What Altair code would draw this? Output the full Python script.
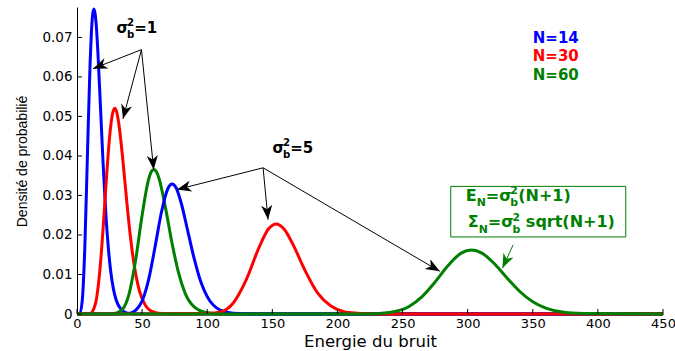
import math
import altair as alt
import pandas as pd

# ---- density curves: energie du bruit (x) vs densité (y) ----
n14_s1_x = [0, 2, 4, 6, 8, 10, 11, 12, 13, 14, 15, 16, 18, 20, 22, 24, 26, 28, 30, 34, 38, 44, 450]
n14_s1_y = [0, 0.0001, 0.0033, 0.0168, 0.0401, 0.0629, 0.0709, 0.0757, 0.0772, 0.0758, 0.0721,
            0.0665, 0.0526, 0.0384, 0.0262, 0.0170, 0.0105, 0.0063, 0.0036, 0.0011, 0.0003, 0, 0]

n30_s1_x = [0, 10, 14, 18, 20, 22, 24, 26, 27.5, 29, 30.5, 32, 35, 38, 41, 44, 48, 52, 58, 66, 450]
n30_s1_y = [0, 0.0001, 0.0024, 0.0127, 0.0214, 0.0314, 0.0408, 0.0479, 0.0510, 0.0521, 0.0511,
            0.0484, 0.0397, 0.0292, 0.0196, 0.0122, 0.0058, 0.0025, 0.0006, 0.0001, 0]

n60_s1_x = [0, 25, 30, 35, 40, 45, 50, 55, 57, 59, 61, 63, 68, 73, 78, 83, 90, 100, 110, 450]
n60_s1_y = [0, 0, 0.0002, 0.0012, 0.0051, 0.0136, 0.0250, 0.0341, 0.0360, 0.0366, 0.0360,
            0.0343, 0.0268, 0.0179, 0.0104, 0.0053, 0.0018, 0.0003, 0, 0]

n14_s5_x = [0, 35, 40, 45, 50, 55, 60, 65, 70, 73, 76, 80, 85, 90, 95, 100, 110, 120, 135, 450]
n14_s5_y = [0, 0, 0.0001, 0.0009, 0.0033, 0.0087, 0.0171, 0.0260, 0.0319, 0.0329, 0.0320,
            0.0281, 0.0211, 0.0140, 0.0082, 0.0044, 0.0010, 0.0002, 0, 0]

n30_s5_x = [0, 90, 100, 110, 120, 130, 140, 147, 153, 159, 166, 175, 185, 195, 205, 215, 230, 450]
n30_s5_y = [0, 0, 0.0001, 0.0005, 0.0028, 0.0087, 0.0170, 0.0215, 0.0228, 0.0215, 0.0175,
            0.0111, 0.0052, 0.0020, 0.0006, 0.0002, 0, 0]

n60_s5_x = [0, 220, 240, 255, 265, 275, 285, 295, 303, 311, 320, 330, 340, 350, 360, 375, 395, 450]
n60_s5_y = [0, 0, 0.0004, 0.0019, 0.0044, 0.0081, 0.0123, 0.0154, 0.0162, 0.0154, 0.0129,
            0.0092, 0.0057, 0.0031, 0.0015, 0.0004, 0.0001, 0]

x_ticks = [0, 50, 100, 150, 200, 250, 300, 350, 400, 450]
y_ticks = [0, 0.01, 0.02, 0.03, 0.04, 0.05, 0.06, 0.07]

# ---- annotation anchors (data coordinates) ----
s1_origin = (49.5, 0.0669)
s1_tips = [(12.3, 0.0621), (35.3, 0.0494), (58.9, 0.0365)]
s5_origin = (142.9, 0.0370)
s5_tips = [(76.8, 0.0315), (146.7, 0.0239), (278.6, 0.0108)]
green_arrow = ((334.9, 0.0175), (326.7, 0.0116))
box_x = (287.0, 421.4)
box_y = (0.0195, 0.0323)
s1_label_at = (30.3, 0.0712)
s5_label_at = (150.1, 0.0408)
box_line1_at = (298.5, 0.0286)
box_line2_at = (300.1, 0.0219)
legend_at = [("N=14", 350.0, 0.0687), ("N=30", 350.0, 0.0641), ("N=60", 350.0, 0.0591)]

BLUE, RED, GREEN = "#0000ff", "#ff0000", "#007f00"
W, H = 586, 307
X_DOMAIN = [0, 450]
Y_DOMAIN = [0, 0.0777]
xs = alt.Scale(domain=X_DOMAIN, nice=False, zero=False)
ys = alt.Scale(domain=Y_DOMAIN, nice=False, zero=False)

# one shared axis definition per channel, repeated on every layer so they merge cleanly
x_axis = alt.Axis(values=x_ticks, ticks=False, grid=False, domainColor="black",
                  labelColor="black", labelFont="DejaVu Sans", labelFontSize=13,
                  labelPadding=3, labelFlush=False, labelOverlap=False,
                  title="Energie du bruit", titleFont="DejaVu Sans", titleFontSize=16.5,
                  titleFontWeight="normal", titleColor="black", titleX=W / 2,
                  titleY=32, titleBaseline="alphabetic", titleAlign="center")
y_axis = alt.Axis(values=y_ticks, ticks=False, grid=False, domainColor="black",
                  labelColor="black", labelFont="DejaVu Sans", labelFontSize=13.5,
                  labelPadding=5, labelFlush=False, labelOverlap=False,
                  labelExpr="datum.value == 0 ? '0' : format(datum.value, '.2f')",
                  title="Densité de probabilié", titleFont="Liberation Sans",
                  titleFontSize=14, titleFontWeight="normal", titleColor="black",
                  titleX=-51, titleY=154, titleBaseline="alphabetic",
                  titleAlign="center")


def X(field):
    return alt.X(field, scale=xs, axis=x_axis)


def Y(field):
    return alt.Y(field, scale=ys, axis=y_axis)


# advance widths (em) for DejaVu Sans Bold, used to lay out formula pieces
GLYPH_W = {"E": .683, "N": .837, "=": .838, "σ": .70, "Σ": .683, "(": .457, ")": .457,
           "+": .838, "1": .696, "2": .696, "5": .696, "b": .716, "s": .595, "q": .716,
           "r": .493, "t": .478, " ": .348}


def text_width(s, size):
    return sum(GLYPH_W.get(c, .7) for c in s) * size


def text_piece(x, y, txt, dx, dy, size, color):
    return alt.Chart(pd.DataFrame({"x": [x], "y": [y]})).mark_text(
        text=txt, align="left", baseline="alphabetic", dx=round(dx, 2), dy=round(dy, 2),
        font="DejaVu Sans", fontSize=size, fontWeight="bold", color=color
    ).encode(x=X("x:Q"), y=Y("y:Q"))


def formula(at, parts, size, color):
    x, y = at
    small = round(size * 0.68, 1)
    layers, dx = [], 0.0
    for part in parts:
        kind = part[0]
        if kind == "t":
            layers.append(text_piece(x, y, part[1], dx, 0, size, color))
            dx += text_width(part[1], size)
        elif kind == "gap":
            dx += part[1] * size
        elif kind == "sub":
            layers.append(text_piece(x, y, part[1], dx, 0.34 * size, small, color))
            dx += text_width(part[1], small)
        elif kind == "subsup":
            layers.append(text_piece(x, y, part[1], dx, 0.34 * size, small, color))
            layers.append(text_piece(x, y, part[2], dx, -0.43 * size, small, color))
            dx += max(text_width(part[1], small), text_width(part[2], small))
    return layers


def curve(xv, yv, color):
    df = pd.DataFrame({"x": xv, "y": yv})
    return alt.Chart(df).mark_line(interpolate="monotone", strokeWidth=3, color=color).encode(
        x=X("x:Q"), y=Y("y:Q"))


# inward tick marks
y_tick_layer = alt.Chart(pd.DataFrame({"y": y_ticks})).mark_rule(color="black", strokeWidth=1).encode(
    y=Y("y:Q"), x=alt.value(0), x2=alt.value(5))
x_tick_layer = alt.Chart(pd.DataFrame({"x": x_ticks})).mark_rule(color="black", strokeWidth=1).encode(
    x=X("x:Q"), y=alt.value(H), y2=alt.value(H - 5))

# arrows: shafts and notched heads
sx = W / (X_DOMAIN[1] - X_DOMAIN[0])
sy = H / (Y_DOMAIN[1] - Y_DOMAIN[0])
rows = []
for origin, tips in [(s1_origin, s1_tips), (s5_origin, s5_tips)]:
    for tip in tips:
        rows.append((origin, tip, "black"))
rows.append((green_arrow[0], green_arrow[1], GREEN))
arrow_df = pd.DataFrame([
    {"x": o[0], "y": o[1], "x1": t[0], "y1": t[1], "c": c,
     "ang": math.degrees(math.atan2((t[0] - o[0]) * sx, (t[1] - o[1]) * sy)) % 360}
    for o, t, c in rows
])
ARROW_HEAD = "M0,0 L0.62,1.6 L0,1.15 L-0.62,1.6 Z"
shafts = alt.Chart(arrow_df).mark_rule(strokeWidth=1).encode(
    x=X("x:Q"), y=Y("y:Q"), x2="x1:Q", y2="y1:Q", color=alt.Color("c:N", scale=None))
heads = alt.Chart(arrow_df.drop(columns=["x", "y"]).rename(columns={"x1": "x", "y1": "y"})
                  ).mark_point(shape=ARROW_HEAD, filled=True, size=320, opacity=1,
                               strokeWidth=0).encode(
    x=X("x:Q"), y=Y("y:Q"),
    angle=alt.Angle("ang:Q", scale=None), color=alt.Color("c:N", scale=None))

# framed formula box
box = alt.Chart(pd.DataFrame({"x": [box_x[0]], "x2": [box_x[1]], "y": [box_y[0]], "y2": [box_y[1]]})
                ).mark_rect(fill="white", fillOpacity=0, stroke=GREEN, strokeWidth=1).encode(
    x=X("x:Q"), x2="x2:Q", y=Y("y:Q"), y2="y2:Q")

texts = []
texts += formula(s1_label_at, [("t", "σ"), ("subsup", "b", "2"), ("t", "=1")], 15, "black")
texts += formula(s5_label_at, [("t", "σ"), ("subsup", "b", "2"), ("t", "=5")], 15, "black")
texts += formula(box_line1_at, [("t", "E"), ("sub", "N"), ("t", "=σ"), ("subsup", "b", "2"),
                                ("t", "(N+1)")], 16, GREEN)
texts += formula(box_line2_at, [("t", "Σ"), ("sub", "N"), ("t", "=σ"), ("subsup", "b", "2"),
                                ("gap", 0.35), ("t", "sqrt(N+1)")], 16, GREEN)
legend_colors = {"N=14": BLUE, "N=30": RED, "N=60": GREEN}
for label, lx, ly in legend_at:
    texts.append(text_piece(lx, ly, label, 0, 0, 15, legend_colors[label]))

chart = alt.layer(
    curve(n14_s1_x, n14_s1_y, BLUE),
    curve(n30_s1_x, n30_s1_y, RED),
    curve(n60_s1_x, n60_s1_y, GREEN),
    curve(n14_s5_x, n14_s5_y, BLUE),
    curve(n30_s5_x, n30_s5_y, RED),
    curve(n60_s5_x, n60_s5_y, GREEN),
    x_tick_layer,
    y_tick_layer,
    shafts,
    heads,
    box,
    *texts,
).properties(
    width=W, height=H,
    autosize=alt.AutoSizeParams(type="none"),
    padding={"left": 77, "top": 7, "right": 12, "bottom": 37},
    background="white",
).configure_view(stroke=None)

chart.save("out.html", embed_options={"renderer": "svg", "actions": False})
